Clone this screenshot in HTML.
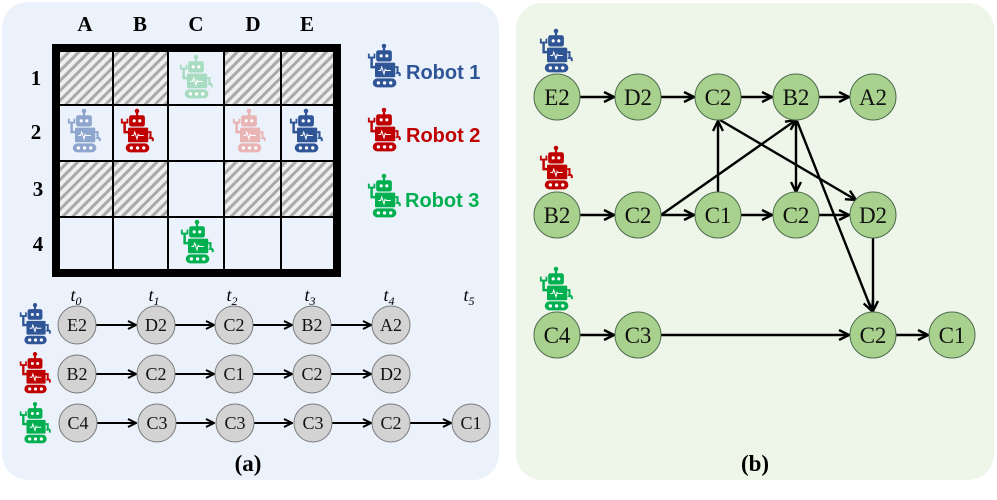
<!DOCTYPE html>
<html><head><meta charset="utf-8"><style>
html,body{margin:0;padding:0;background:#fff;}
svg{display:block;}
.sf{font-family:"Liberation Serif",serif;}
.ss{font-family:"Liberation Sans",sans-serif;}
</style></head><body>
<svg width="997" height="500" viewBox="0 0 997 500" xmlns="http://www.w3.org/2000/svg">
<defs>
<pattern id="hatch" width="7" height="7" patternUnits="userSpaceOnUse" patternTransform="rotate(45)">
<rect width="7" height="7" fill="#efefef"/>
<rect x="0" y="0" width="3" height="7" fill="#a9a9a9"/>
</pattern>
<symbol id="robot" viewBox="0 0 32 40">
<circle cx="16" cy="2.2" r="2"/>
<rect x="15" y="2" width="2" height="5"/>
<rect x="9" y="6" width="14" height="10" rx="2"/>
<circle cx="13.5" cy="11" r="1.4" fill="#fff"/>
<circle cx="18.5" cy="11" r="1.4" fill="#fff"/>
<rect x="8" y="17" width="18" height="13" rx="1"/>
<polyline points="11,24 13,24 14,21 16,27 17,23 18,24 22,24" fill="none" stroke="#fff" stroke-width="0.9"/>
<path d="M8 21 H5 V12" fill="none" stroke="currentColor" stroke-width="2.2"/>
<path d="M2.5 9 V12.5 H7.5 V9" fill="none" stroke="currentColor" stroke-width="1.6"/>
<path d="M26 21 H28 V27 M27 27 a1.6 1.6 0 0 1 3 0 V29" fill="none" stroke="currentColor" stroke-width="1.8"/>
<rect x="6" y="31" width="21" height="8" rx="4"/>
<circle cx="11" cy="35" r="1.5" fill="#fff"/>
<circle cx="16.5" cy="35" r="1.5" fill="#fff"/>
<circle cx="22" cy="35" r="1.5" fill="#fff"/>
</symbol>
<marker id="ah" viewBox="0 0 10 10" refX="9" refY="5" markerWidth="10" markerHeight="10" markerUnits="userSpaceOnUse" orient="auto">
<path d="M1 1 L9 5 L1 9" fill="none" stroke="#000" stroke-width="2"/>
</marker>
<marker id="ah2" viewBox="0 0 12 12" refX="11" refY="6" markerWidth="12" markerHeight="12" markerUnits="userSpaceOnUse" orient="auto">
<path d="M1 1 L11 6 L1 11" fill="none" stroke="#000" stroke-width="2.4"/>
</marker>
</defs>

<rect x="2" y="2" width="497" height="478" rx="26" fill="#ebf2fb"/>
<rect x="516" y="3" width="478" height="477" rx="26" fill="#eef5e9"/>

<rect x="52" y="44" width="289" height="233" fill="#000"/>
<rect x="60" y="52" width="273" height="217" fill="#ebf2fb"/>
<g fill="url(#hatch)">
<rect x="60" y="52" width="53" height="53"/><rect x="113" y="52" width="55" height="53"/>
<rect x="224" y="52" width="57" height="53"/><rect x="281" y="52" width="52" height="53"/>
<rect x="60" y="161" width="53" height="56"/><rect x="113" y="161" width="55" height="56"/>
<rect x="224" y="161" width="57" height="56"/><rect x="281" y="161" width="52" height="56"/>
</g>
<g stroke="#000" stroke-width="2">
<line x1="113" y1="52" x2="113" y2="269"/><line x1="168" y1="52" x2="168" y2="269"/>
<line x1="224" y1="52" x2="224" y2="269"/><line x1="281" y1="52" x2="281" y2="269"/>
<line x1="60" y1="105" x2="333" y2="105"/><line x1="60" y1="161" x2="333" y2="161"/>
<line x1="60" y1="217" x2="333" y2="217"/>
</g>
<g class="sf" font-size="21" font-weight="bold" text-anchor="middle">
<text x="85" y="31">A</text><text x="140" y="31">B</text><text x="196" y="31">C</text><text x="253" y="31">D</text><text x="307" y="31">E</text>
<text x="36" y="85">1</text><text x="36" y="139">2</text><text x="38" y="196">3</text><text x="38" y="251">4</text>
</g>
<use href="#robot" x="178" y="54" width="36" height="46" color="#a8dcc0" fill="#a8dcc0"/>
<use href="#robot" x="66" y="108" width="36" height="46" color="#8ea6cd" fill="#8ea6cd"/>
<use href="#robot" x="119" y="108" width="36" height="46" color="#c00000" fill="#c00000"/>
<use href="#robot" x="231" y="108" width="36" height="46" color="#e8b4b4" fill="#e8b4b4"/>
<use href="#robot" x="288" y="108" width="36" height="46" color="#2f5597" fill="#2f5597"/>
<use href="#robot" x="179" y="219" width="36" height="46" color="#00b050" fill="#00b050"/>
<use href="#robot" x="366" y="43" width="36" height="46" color="#2f5597" fill="#2f5597"/>
<use href="#robot" x="366" y="107" width="36" height="46" color="#c00000" fill="#c00000"/>
<use href="#robot" x="366" y="173" width="36" height="46" color="#00b050" fill="#00b050"/>
<g class="ss" font-size="20" font-weight="bold">
<text x="406" y="79" fill="#2f5597">Robot 1</text>
<text x="406" y="142" fill="#c00000">Robot 2</text>
<text x="405" y="207" fill="#00b050">Robot 3</text>
</g>

<g class="sf" font-size="18" font-style="italic" text-anchor="middle">
<text x="76" y="301">t<tspan font-size="12" dy="4">0</tspan></text>
<text x="154" y="301">t<tspan font-size="12" dy="4">1</tspan></text>
<text x="232" y="301">t<tspan font-size="12" dy="4">2</tspan></text>
<text x="310" y="301">t<tspan font-size="12" dy="4">3</tspan></text>
<text x="389" y="301">t<tspan font-size="12" dy="4">4</tspan></text>
<text x="469" y="301">t<tspan font-size="12" dy="4">5</tspan></text>
</g>
<use href="#robot" x="18" y="302" width="34" height="44" color="#2f5597" fill="#2f5597"/>
<use href="#robot" x="18" y="351" width="34" height="44" color="#c00000" fill="#c00000"/>
<use href="#robot" x="18" y="401" width="34" height="44" color="#00b050" fill="#00b050"/>
<g stroke="#000" stroke-width="2" marker-end="url(#ah)">
<line x1="96" y1="325" x2="136" y2="325"/><line x1="175" y1="325" x2="214" y2="325"/><line x1="253" y1="325" x2="292" y2="325"/><line x1="331" y1="325" x2="371" y2="325"/>
<line x1="96" y1="374" x2="136" y2="374"/><line x1="175" y1="374" x2="214" y2="374"/><line x1="253" y1="374" x2="292" y2="374"/><line x1="331" y1="374" x2="371" y2="374"/>
<line x1="96" y1="423" x2="136" y2="423"/><line x1="175" y1="423" x2="214" y2="423"/><line x1="253" y1="423" x2="292" y2="423"/><line x1="331" y1="423" x2="371" y2="423"/><line x1="410" y1="423" x2="451" y2="423"/>
</g>
<g fill="#d3d3d3" stroke="#7a7a7a" stroke-width="1">
<circle cx="77" cy="325" r="19"/><circle cx="156" cy="325" r="19"/><circle cx="234" cy="325" r="19"/><circle cx="312" cy="325" r="19"/><circle cx="391" cy="325" r="19"/>
<circle cx="77" cy="374" r="19"/><circle cx="156" cy="374" r="19"/><circle cx="234" cy="374" r="19"/><circle cx="312" cy="374" r="19"/><circle cx="391" cy="374" r="19"/>
<circle cx="78" cy="423" r="19"/><circle cx="157" cy="423" r="19"/><circle cx="235" cy="423" r="19"/><circle cx="313" cy="423" r="19"/><circle cx="391" cy="423" r="19"/><circle cx="471" cy="423" r="19"/>
</g>
<g class="sf" font-size="18" text-anchor="middle" fill="#111">
<text x="77" y="331">E2</text><text x="156" y="331">D2</text><text x="234" y="331">C2</text><text x="312" y="331">B2</text><text x="391" y="331">A2</text>
<text x="77" y="380">B2</text><text x="156" y="380">C2</text><text x="234" y="380">C1</text><text x="312" y="380">C2</text><text x="391" y="380">D2</text>
<text x="78" y="429">C4</text><text x="157" y="429">C3</text><text x="235" y="429">C3</text><text x="313" y="429">C3</text><text x="391" y="429">C2</text><text x="471" y="429">C1</text>
</g>
<text x="248" y="471" class="sf" font-size="23" font-weight="bold" text-anchor="middle">(a)</text>

<use href="#robot" x="538" y="28" width="36" height="46" color="#2f5597" fill="#2f5597"/>
<use href="#robot" x="538" y="145" width="36" height="46" color="#c00000" fill="#c00000"/>
<use href="#robot" x="538" y="266" width="36" height="46" color="#00b050" fill="#00b050"/>
<g stroke="#000" stroke-width="2.4" marker-end="url(#ah2)">
<line x1="580" y1="97" x2="614" y2="97"/><line x1="661" y1="97" x2="694" y2="97"/><line x1="741" y1="97" x2="772" y2="97"/><line x1="819" y1="97" x2="849" y2="97"/>
<line x1="580" y1="215" x2="614" y2="215"/><line x1="661" y1="215" x2="694" y2="215"/><line x1="741" y1="215" x2="772" y2="215"/><line x1="819" y1="215" x2="849" y2="215"/>
<line x1="580" y1="335" x2="614" y2="335"/><line x1="661" y1="335" x2="849" y2="335"/><line x1="896" y1="335" x2="928" y2="335"/>
<line x1="718" y1="192" x2="718" y2="121"/>
<line x1="661" y1="215" x2="796" y2="120"/>
<line x1="720" y1="120" x2="856" y2="200"/>
<line x1="796" y1="121" x2="796" y2="192"/>
<line x1="797" y1="121" x2="872" y2="311"/>
<line x1="873" y1="238" x2="873" y2="311"/>
</g>
<g fill="#a9d18e" stroke="#4d6b4d" stroke-width="1">
<circle cx="557" cy="97" r="23"/><circle cx="638" cy="97" r="23"/><circle cx="718" cy="97" r="23"/><circle cx="796" cy="97" r="23"/><circle cx="873" cy="97" r="23"/>
<circle cx="557" cy="215" r="23"/><circle cx="638" cy="215" r="23"/><circle cx="718" cy="215" r="23"/><circle cx="796" cy="215" r="23"/><circle cx="873" cy="215" r="23"/>
<circle cx="557" cy="335" r="23"/><circle cx="638" cy="335" r="23"/><circle cx="873" cy="335" r="23"/><circle cx="952" cy="335" r="23"/>
</g>
<g class="sf" font-size="23" text-anchor="middle" fill="#111">
<text x="557" y="105">E2</text><text x="638" y="105">D2</text><text x="718" y="105">C2</text><text x="796" y="105">B2</text><text x="873" y="105">A2</text>
<text x="557" y="223">B2</text><text x="638" y="223">C2</text><text x="718" y="223">C1</text><text x="796" y="223">C2</text><text x="873" y="223">D2</text>
<text x="557" y="343">C4</text><text x="638" y="343">C3</text><text x="873" y="343">C2</text><text x="952" y="343">C1</text>
</g>
<text x="755" y="471" class="sf" font-size="23" font-weight="bold" text-anchor="middle">(b)</text>
</svg>
</body></html>
